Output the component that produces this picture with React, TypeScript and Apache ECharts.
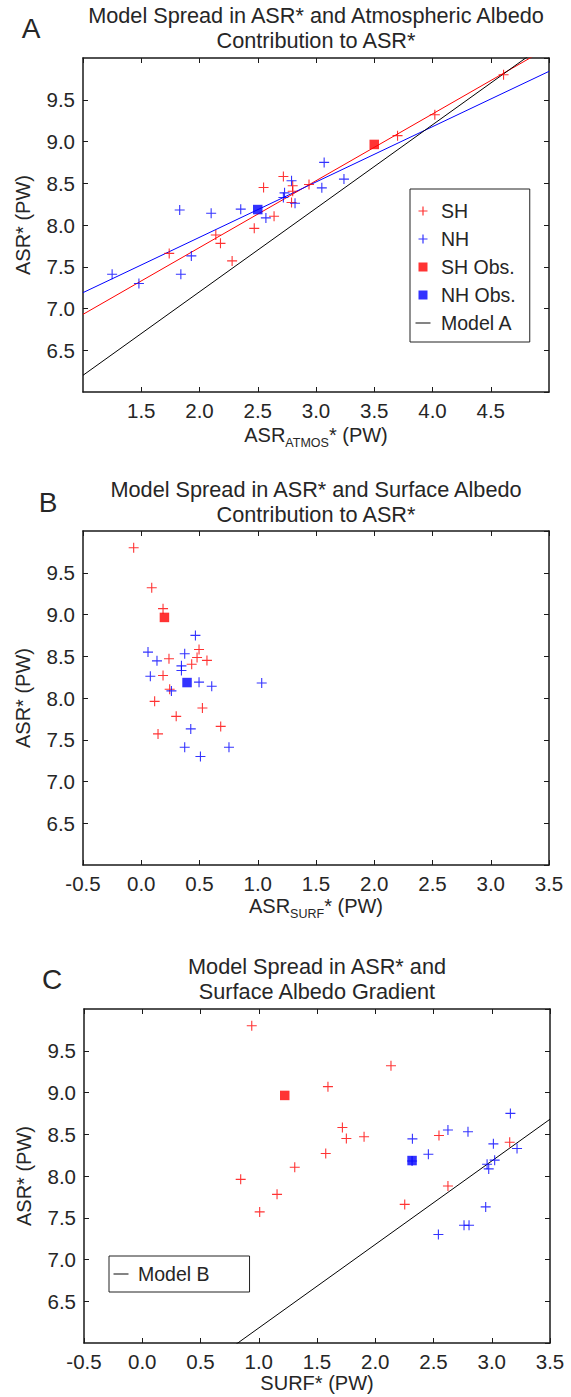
import React, { useEffect, useRef } from 'react';
import * as echarts from 'echarts';

const FONT = "'Liberation Sans', Arial, Helvetica, sans-serif";
const TXT = '#262626';
const RED = '#ff0000';
const BLUE = '#0000ff';

// ---- Southern Hemisphere models ----
const shAsr = [9.80, 9.32, 9.07, 8.58, 8.485, 8.47, 8.45, 8.405, 8.27, 8.105, 7.96, 7.88, 7.78, 7.66, 7.57];
const shAtmos = [4.61, 4.02, 3.70, 2.72, 2.94, 2.80, 2.55, 2.80, 2.79, 2.64, 2.47, 2.14, 2.18, 1.74, 2.28];
const shSurf = [-0.065, 0.09, 0.187, 0.496, 0.479, 0.238, 0.564, 0.433, 0.187, 0.244, 0.115, 0.525, 0.30, 0.682, 0.144];
const shGrad = [0.94, 2.135, 1.594, 1.718, 2.547, 1.904, 1.752, 3.154, 1.575, 1.309, 0.845, 2.624, 1.157, 2.253, 1.008];

// ---- Northern Hemisphere models ----
const nhAsr = [8.75, 8.55, 8.53, 8.445, 8.385, 8.33, 8.26, 8.19, 8.18, 8.14, 8.085, 7.63, 7.41, 7.41, 7.30];
const nhAtmos = [3.07, 3.24, 2.79, 3.05, 2.73, 2.72, 2.82, 2.354, 1.83, 2.10, 2.57, 1.93, 1.25, 1.84, 1.48];
const nhSurf = [0.465, 0.058, 0.373, 0.135, 0.345, 0.345, 0.078, 0.496, 1.034, 0.605, 0.259, 0.425, 0.753, 0.373, 0.508];
const nhGrad = [3.16, 2.624, 2.796, 2.319, 3.014, 3.217, 2.456, 3.025, 2.316, 2.96, 2.974, 2.948, 2.762, 2.805, 2.542];

// ---- Observations: [SH, NH] ----
const obsAsr = [8.965, 8.185];
const obsAtmos = [3.50, 2.50];
const obsSurf = [0.199, 0.393];
const obsGrad = [1.223, 2.316];

// ---- Fit / model lines (endpoints) ----
const fitAX = [1.0, 5.0];
const shFitAY = [6.93, 10.13];
const nhFitAY = [7.19, 9.84];
const modelAY = [6.2, 10.2];
const modelBX = [-0.5, 3.5];
const modelBY = [4.68, 8.68];

// ---- Axis ticks ----
const yMin = 6, yMax = 10, tickStep = 0.5;
const xRangeA = [1, 5];
const xRangeBC = [-0.5, 3.5];

const zip = (xs: number[], ys: number[]) => xs.map((x, i) => [x, ys[i]]);

const CROSS = 'path://M0,4.45H10V5.55H0Z M4.45,0H5.55V10H4.45Z';
const LG_CROSS = 'path://M0,0M26,14M8.5,6.4H17.5V7.6H8.5Z M12.4,2.5H13.6V11.5H12.4Z';
const LG_SQUARE = 'path://M0,0M26,14M8.5,2.5H17.5V11.5H8.5Z';
const LG_LINE = 'path://M0,0M26,14M5.5,6.2H20.5V7.8H5.5Z';
const LG_LINE_B = 'path://M0,0M24,14M4.5,6.2H19.5V7.8H4.5Z';

const grids = [
  { left: 83, top: 58, width: 466, height: 334 },
  { left: 83, top: 531, width: 466, height: 334 },
  { left: 84, top: 1009, width: 466, height: 334 },
];

function axesFor(gi: number, xr: number[], edgeLabels: boolean, xName: string, xRich: boolean, nameGap: number) {
  const line = { show: true, onZero: false, lineStyle: { color: '#1a1a1a', width: 1.5 } };
  const tick = { show: true, inside: true, length: 5, lineStyle: { color: '#1a1a1a', width: 1 } };
  const lbl = { color: TXT, fontFamily: FONT, fontSize: 20.5, formatter: (v: number) => v.toFixed(1) };
  const rich = {
    m: { fontSize: 20, lineHeight: 28, fontFamily: FONT, color: TXT },
    s: { fontSize: 12.5, lineHeight: 12, verticalAlign: 'bottom', fontFamily: FONT, color: TXT },
  };
  const xAxes = [
    {
      type: 'value', gridIndex: gi, position: 'bottom', min: xr[0], max: xr[1], interval: tickStep,
      axisLine: line, axisTick: tick, splitLine: { show: false },
      axisLabel: { ...lbl, margin: 8, showMinLabel: edgeLabels, showMaxLabel: edgeLabels },
      name: xName, nameLocation: 'middle', nameGap,
      nameTextStyle: xRich ? { fontFamily: FONT, color: TXT, fontSize: 20, rich } : { fontFamily: FONT, color: TXT, fontSize: 20, lineHeight: 20 },
    },
    {
      type: 'value', gridIndex: gi, position: 'top', min: xr[0], max: xr[1], interval: tickStep,
      axisLine: line, axisTick: tick, splitLine: { show: false }, axisLabel: { show: false },
    },
  ];
  const yAxes = [
    {
      type: 'value', gridIndex: gi, position: 'left', min: yMin, max: yMax, interval: tickStep,
      axisLine: line, axisTick: tick, splitLine: { show: false },
      axisLabel: { ...lbl, margin: 8, showMinLabel: false, showMaxLabel: false },
      name: 'ASR* (PW)', nameLocation: 'middle', nameGap: 50, nameRotate: 90,
      nameTextStyle: { fontFamily: FONT, color: TXT, fontSize: 20 },
    },
    {
      type: 'value', gridIndex: gi, position: 'right', min: yMin, max: yMax, interval: tickStep,
      axisLine: line, axisTick: tick, splitLine: { show: false }, axisLabel: { show: false },
    },
  ];
  return { xAxes, yAxes };
}

function panelSeries(p: number, shX: number[], nhX: number[], obsX: number[]) {
  const xi = p * 2, yi = p * 2;
  const base = { xAxisIndex: xi, yAxisIndex: yi };
  return [
    { ...base, type: 'scatter', name: 'SH', symbol: CROSS, symbolSize: 10, itemStyle: { color: RED }, data: zip(shX, shAsr), z: 3 },
    { ...base, type: 'scatter', name: 'NH', symbol: CROSS, symbolSize: 10, itemStyle: { color: BLUE }, data: zip(nhX, nhAsr), z: 3 },
    { ...base, type: 'scatter', name: 'SH Obs.', symbol: 'rect', symbolSize: 9.5, itemStyle: { color: RED }, data: [[obsX[0], obsAsr[0]]], z: 4 },
    { ...base, type: 'scatter', name: 'NH Obs.', symbol: 'rect', symbolSize: 9.5, itemStyle: { color: BLUE }, data: [[obsX[1], obsAsr[1]]], z: 4 },
  ];
}

function buildOption() {
  const a = axesFor(0, xRangeA, false, '{m|ASR}{s|ATMOS}{m|* (PW)}', true, 29);
  const b = axesFor(1, xRangeBC, true, '{m|ASR}{s|SURF}{m|* (PW)}', true, 27);
  const c = axesFor(2, xRangeBC, true, 'SURF* (PW)', false, 22);

  const lineBase = (xi: number) => ({ type: 'line', xAxisIndex: xi, yAxisIndex: xi, showSymbol: false, symbol: 'none', clip: true, z: 2 });

  const series: any[] = [
    { ...lineBase(0), name: 'SH fit', data: zip(fitAX, shFitAY), lineStyle: { color: RED, width: 1 }, itemStyle: { color: RED } },
    { ...lineBase(0), name: 'NH fit', data: zip(fitAX, nhFitAY), lineStyle: { color: BLUE, width: 1 }, itemStyle: { color: BLUE } },
    { ...lineBase(0), name: 'Model A', data: zip(fitAX, modelAY), lineStyle: { color: '#000', width: 1 }, itemStyle: { color: '#000' } },
    ...panelSeries(0, shAtmos, nhAtmos, obsAtmos),
    ...panelSeries(1, shSurf, nhSurf, obsSurf),
    { ...lineBase(4), name: 'Model B', data: zip(modelBX, modelBY), lineStyle: { color: '#000', width: 1 }, itemStyle: { color: '#000' } },
    ...panelSeries(2, shGrad, nhGrad, obsGrad),
  ];

  const titleStyle = (x: number, y: number, text: string) => ({
    type: 'text', x, y, silent: true,
    style: { text, fontSize: 21.7, fontFamily: FONT, fill: TXT, align: 'center', verticalAlign: 'middle', lineHeight: 25 },
  });
  const letter = (x: number, y: number, text: string) => ({
    type: 'text', x, y, silent: true,
    style: { text, fontSize: 28, fontFamily: FONT, fill: TXT, align: 'center', verticalAlign: 'middle' },
  });

  const legendText = { fontSize: 19.5, fontFamily: FONT, color: TXT, lineHeight: 20 };

  return {
    animation: false,
    backgroundColor: '#ffffff',
    grid: grids.map((g) => ({ ...g, containLabel: false })),
    xAxis: [...a.xAxes, ...b.xAxes, ...c.xAxes],
    yAxis: [...a.yAxes, ...b.yAxes, ...c.yAxes],
    legend: [
      {
        orient: 'vertical', left: 410, top: 189, itemWidth: 26, itemHeight: 14, itemGap: 8,
        padding: [12, 14, 9, 0], borderColor: '#222', borderWidth: 1, backgroundColor: '#fff',
        selectedMode: false, textStyle: legendText, itemStyle: { borderWidth: 0 },
        data: [
          { name: 'SH', icon: LG_CROSS },
          { name: 'NH', icon: LG_CROSS },
          { name: 'SH Obs.', icon: LG_SQUARE },
          { name: 'NH Obs.', icon: LG_SQUARE },
          { name: 'Model A', icon: LG_LINE, itemStyle: { color: '#666' } },
        ],
      },
      {
        orient: 'vertical', left: 109, top: 1256, itemWidth: 24, itemHeight: 14, itemGap: 8,
        padding: [8, 40, 8, 0], borderColor: '#222', borderWidth: 1, backgroundColor: '#fff',
        selectedMode: false, textStyle: legendText, itemStyle: { borderWidth: 0 },
        data: [{ name: 'Model B', icon: LG_LINE_B, itemStyle: { color: '#666' } }],
      },
    ],
    graphic: [
      letter(31, 28, 'A'),
      titleStyle(316, 28.2, 'Model Spread in ASR* and Atmospheric Albedo\nContribution to ASR*'),
      letter(48, 502, 'B'),
      titleStyle(316, 501.5, 'Model Spread in ASR* and Surface Albedo\nContribution to ASR*'),
      letter(52, 979, 'C'),
      titleStyle(317, 979.2, 'Model Spread in ASR* and\nSurface Albedo Gradient'),
    ],
    series,
  };
}

export default function App() {
  const ref = useRef<HTMLDivElement>(null);
  useEffect(() => {
    if (!ref.current) return;
    const chart = echarts.init(ref.current, undefined, { renderer: 'svg' });
    chart.setOption(buildOption() as any);
    return () => chart.dispose();
  }, []);
  return (
    <div
      ref={ref}
      style={{ position: 'absolute', left: 0, top: 0, width: 571, height: 1397, background: '#fff' }}
    />
  );
}
